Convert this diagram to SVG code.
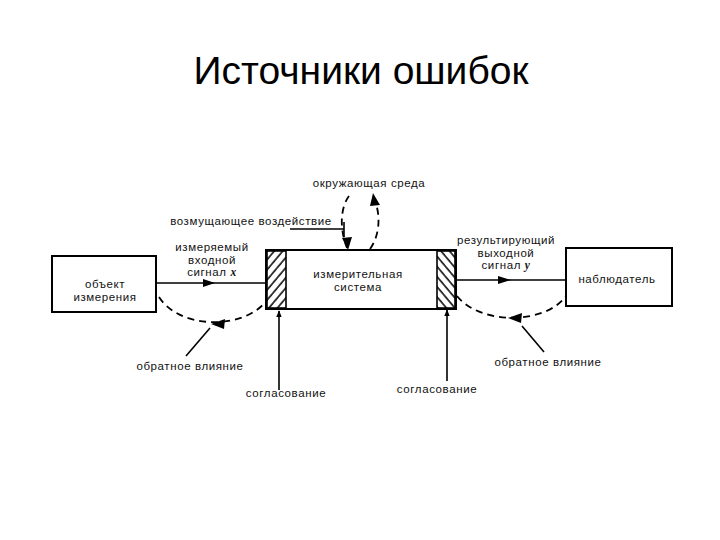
<svg xmlns="http://www.w3.org/2000/svg" width="720" height="540" viewBox="0 0 720 540">
<style>
.t{font-family:"Liberation Sans",Arial,sans-serif;font-size:11.5px;letter-spacing:0.6px;fill:#111;text-anchor:middle}
.ti{font-family:"Liberation Sans",Arial,sans-serif;font-size:39px;fill:#000;text-anchor:middle}
.box{fill:#fff;stroke:#000;stroke-width:2}
.ln{fill:none;stroke:#000;stroke-width:1.6}
.ds{fill:none;stroke:#000;stroke-width:1.8;stroke-dasharray:7 5}
</style>
<defs>
<pattern id="hl" width="6.5" height="6.5" patternUnits="userSpaceOnUse" patternTransform="rotate(40)">
<line x1="1" y1="0" x2="1" y2="6.5" stroke="#000" stroke-width="1.5"/>
</pattern>
<pattern id="hr" width="6.5" height="6.5" patternUnits="userSpaceOnUse" patternTransform="rotate(-40)">
<line x1="1" y1="0" x2="1" y2="6.5" stroke="#000" stroke-width="1.5"/>
</pattern>
<marker id="ah" viewBox="0 0 10 10" refX="9" refY="5" markerWidth="7" markerHeight="7" orient="auto" markerUnits="userSpaceOnUse">
<path d="M0,1 L10,5 L0,9 z" fill="#000"/>
</marker>
</defs>
<text class="ti" x="361" y="84">Источники ошибок</text>

<g id="object">
<rect class="box" x="52" y="256" width="104" height="56"/>
<text class="t" x="105" y="288">объект</text>
<text class="t" x="105" y="301">измерения</text>
</g>

<g id="system">
<rect class="box" x="266" y="250" width="190" height="59"/>
<rect x="267" y="251" width="19" height="57" fill="url(#hl)" stroke="#000" stroke-width="1.6"/>
<rect x="437" y="251" width="18" height="57" fill="url(#hr)" stroke="#000" stroke-width="1.6"/>
<text class="t" x="358" y="278">измерительная</text>
<text class="t" x="358" y="291">система</text>
</g>

<g id="observer">
<rect class="box" x="566" y="248" width="106" height="58"/>
<text class="t" x="617" y="283">наблюдатель</text>
</g>

<g id="labels">
<text class="t" x="212" y="251">измеряемый</text>
<text class="t" x="212" y="263.5">входной</text>
<text class="t" x="212" y="276">сигнал <tspan font-style="italic" font-family="Liberation Serif,serif" font-weight="bold">x</tspan></text>
<text class="t" x="251" y="225">возмущающее воздействие</text>
<text class="t" x="369" y="187">окружающая среда</text>
<text class="t" x="506" y="244">результирующий</text>
<text class="t" x="506" y="256.5">выходной</text>
<text class="t" x="506" y="269">сигнал <tspan font-style="italic" font-family="Liberation Serif,serif" font-weight="bold">y</tspan></text>
<text class="t" x="190" y="370">обратное влияние</text>
<text class="t" x="286" y="397">согласование</text>
<text class="t" x="548" y="366">обратное влияние</text>
<text class="t" x="437" y="393">согласование</text>
</g>

<g id="connectors">
<line class="ln" x1="156" y1="283" x2="266" y2="283"/>
<path d="M203,279 L215,283 L203,287 z" fill="#000"/>
<line class="ln" x1="456" y1="280" x2="566" y2="280"/>
<path d="M498,276 L511,280 L498,284 z" fill="#000"/>
<line class="ln" x1="290" y1="229" x2="344" y2="229"/>
<line class="ln" x1="344" y1="222" x2="344" y2="237"/>
<path class="ds" d="M349,196 C342,205 338,225 347,248"/>
<path d="M342,238 L348,250 L352,237 z" fill="#000"/>
<path class="ds" d="M370,249 C380,235 381,215 374,198"/>
<path d="M370,206 L373,193 L380,205 z" fill="#000"/>
<path class="ds" d="M159,297 C180,330 245,330 267,300"/>
<path d="M225,319 L211,324 L224,329 z" fill="#000"/>
<path class="ds" d="M457,296 C480,325 545,325 566,296"/>
<path d="M522,313 L508,318 L521,323 z" fill="#000"/>
<line class="ln" x1="210" y1="328" x2="186" y2="356"/>
<line class="ln" x1="522" y1="326" x2="544" y2="352"/>
<line class="ln" x1="279" y1="390" x2="279" y2="311" marker-end="url(#ah)"/>
<line class="ln" x1="447" y1="381" x2="447" y2="310" marker-end="url(#ah)"/>
</g>
</svg>
